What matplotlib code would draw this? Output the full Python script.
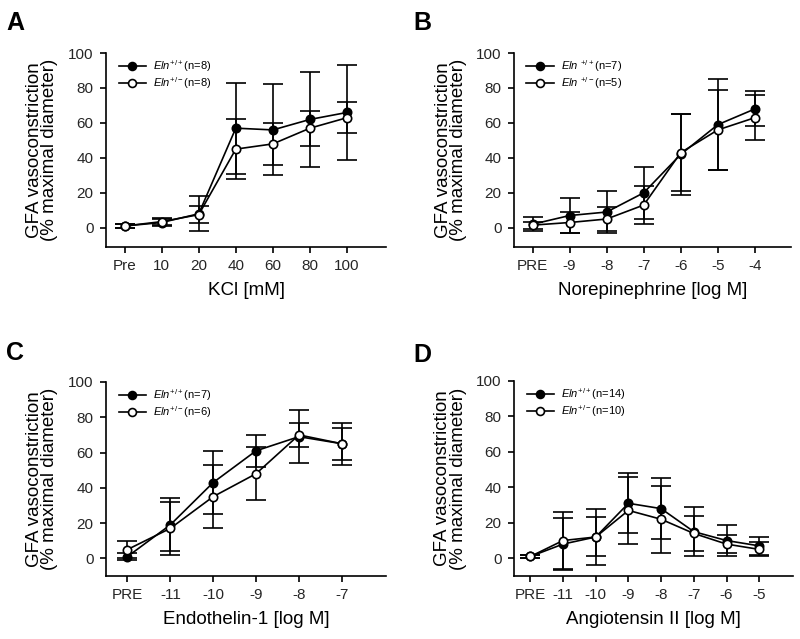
import matplotlib
matplotlib.use("Agg")
import matplotlib.pyplot as plt

plt.rcParams['font.family'] = ['Liberation Sans', 'DejaVu Sans']
plt.rcParams['mathtext.fontset'] = 'custom'
plt.rcParams['mathtext.rm'] = 'Liberation Sans'
plt.rcParams['mathtext.it'] = 'Liberation Sans:italic'

# panel A - KCl
kcl_ticks = ['Pre', '10', '20', '40', '60', '80', '100']
kcl_wt = [1, 3, 8, 57, 56, 62, 66]
kcl_wt_err = [1, 2, 10, 26, 26, 27, 27]
kcl_het = [1, 3.5, 7.5, 45, 48, 57, 63]
kcl_het_err = [1, 2, 5, 17, 12, 10, 9]

# panel B - norepinephrine
ne_ticks = ['PRE', '-9', '-8', '-7', '-6', '-5', '-4']
ne_wt = [2, 7, 9, 20, 42, 59, 68]
ne_wt_err = [4, 10, 12, 15, 23, 26, 10]
ne_het = [1.5, 3, 5, 13, 43, 56, 63]
ne_het_err = [2, 6, 7, 11, 22, 23, 13]

# panel C - endothelin-1
et_ticks = ['PRE', '-11', '-10', '-9', '-8', '-7']
et_wt = [1, 19, 43, 61, 69, 65]
et_wt_err = [2, 15, 18, 9, 15, 12]
et_het = [5, 17, 35, 48, 70, 65]
et_het_err = [5, 15, 18, 15, 7, 9]

# panel D - angiotensin II
ang_ticks = ['PRE', '-11', '-10', '-9', '-8', '-7', '-6', '-5']
ang_wt = [1, 8, 12, 31, 28, 15, 10, 7]
ang_wt_err = [1, 14.5, 16, 17, 17, 14, 9, 5]
ang_het = [1, 10, 12, 27, 22, 14, 8, 5]
ang_het_err = [1, 16, 11, 19, 19, 10, 5, 4]

panels = [
    ('A', [0.1325, 0.6135, 0.35, 0.3035], kcl_ticks, kcl_wt, kcl_wt_err, kcl_het, kcl_het_err,
     'KCl [mM]', (8, 8), '', (-11, 100), 7.05),
    ('B', [0.6425, 0.6135, 0.346, 0.3035], ne_ticks, ne_wt, ne_wt_err, ne_het, ne_het_err,
     'Norepinephrine [log M]', (7, 5), r'\ ', (-11, 100), 6.97),
    ('C', [0.1325, 0.0986, 0.35, 0.3036], et_ticks, et_wt, et_wt_err, et_het, et_het_err,
     'Endothelin-1 [log M]', (7, 6), '', (-10, 100), 6.03),
    ('D', [0.6425, 0.0986, 0.349, 0.3052], ang_ticks, ang_wt, ang_wt_err, ang_het, ang_het_err,
     'Angiotensin II [log M]', (14, 10), '', (-10, 100), 8.04),
]

letter_pos = {'A': (0.008, 0.983), 'B': (0.517, 0.983), 'C': (0.008, 0.466), 'D': (0.517, 0.464)}

fig = plt.figure(figsize=(8, 6.39), dpi=100)

for letter, rect, ticks, wt, wt_err, het, het_err, xlabel, ns, sp, ylim, xmax in panels:
    ax = fig.add_axes(rect)
    x = list(range(len(ticks)))
    ax.errorbar(x, wt, yerr=wt_err, color='black', lw=1.2, elinewidth=1.2,
                capsize=7, capthick=1.2, marker='o', ms=6, mfc='black', mec='black',
                mew=1.2, zorder=3, label=r'$\mathit{Eln}' + sp + r'^{+/+}$(n=%d)' % ns[0])
    ax.errorbar(x, het, yerr=het_err, color='black', lw=1.2, elinewidth=1.2,
                capsize=7, capthick=1.2, marker='o', ms=6, mfc='white', mec='black',
                mew=1.2, zorder=4, label=r'$\mathit{Eln}' + sp + r'^{+/-}$(n=%d)' % ns[1])
    ax.set_xlim(-0.5, xmax)
    ax.set_ylim(*ylim)
    ax.set_xticks(x)
    ax.set_xticklabels(ticks)
    ax.set_yticks([0, 20, 40, 60, 80, 100])
    ax.spines['top'].set_visible(False)
    ax.spines['right'].set_visible(False)
    for s in ('left', 'bottom'):
        ax.spines[s].set_linewidth(1.2)
    ax.tick_params(direction='out', length=4, width=1.2, labelsize=11,
                   labelcolor='#262626', pad=5)
    ax.set_xlabel(xlabel, fontsize=13.5)
    ax.xaxis.set_label_coords(0.5, -0.18)
    ax.set_ylabel('GFA vasoconstriction\n(% maximal diameter)', fontsize=13.5, linespacing=0.85)
    ax.yaxis.set_label_coords(-0.17, 0.5)
    handles, labels = ax.get_legend_handles_labels()
    handles = [h[0] for h in handles]
    ax.legend(handles, labels, loc='upper left', bbox_to_anchor=(0.045, 0.975),
              frameon=False, fontsize=8, handlelength=2.5, handletextpad=0.6,
              borderpad=0, borderaxespad=0, labelspacing=0.12, markerscale=0.95)
    fig.text(letter_pos[letter][0], letter_pos[letter][1], letter, fontsize=18,
             fontweight='bold', va='top', ha='left')

fig.savefig('out.png', dpi=100)
